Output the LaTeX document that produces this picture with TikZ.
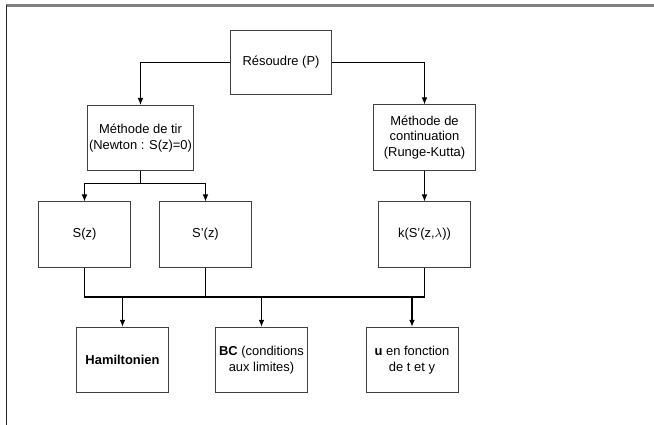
\documentclass[tikz,border=0pt]{standalone}
\usepackage{fontspec}
\setmainfont{Liberation Sans}
\usetikzlibrary{arrows.meta}
\begin{document}
\begin{tikzpicture}[x=0.025cm, y=-0.025cm,
    every node/.style={rectangle, draw=black!75, line width=0.6pt, align=center,
      minimum width=2.3cm, minimum height=1.63cm, inner sep=1pt,
      font=\fontsize{9.2}{11}\selectfont},
    wide/.style={minimum width=2.53cm},
    thin arrow/.style={-{Latex[length=5pt,width=4pt]}, line width=0.6pt},
    thick arrow/.style={-{Latex[length=5pt,width=4pt]}, line width=1.2pt},
    bus/.style={line width=1.2pt}]
  \useasboundingbox (0,0) rectangle (654,425);
  % cadre
  \draw[black!50, line width=1.5pt] (6,5.5) -- (654,5.5);
  \draw[black!85, line width=1.2pt] (6.5,5) -- (6.5,425);

  \node (resoudre) at (281,62) [wide, minimum height=1.6cm] {Résoudre (P)};
  \node (tir) at (140.5,138) [wide] {Méthode de tir\\(Newton : S(z)=0)};
  \node (cont) at (424.5,137.5) [wide] {Méthode de\\continuation\\(Runge-Kutta)};
  \node (s) at (84.5,234.5) {S(z)};
  \node (sp) at (205.5,234.5) {S'(z)};
  \node (k) at (424.5,234.5) {k(S'(z,$\lambda$))};
  \node (ham) at (122.5,360) {\textbf{Hamiltonien}};
  \node (bc) at (261.5,360) {\textbf{BC} (conditions\\aux limites)};
  \node (u) at (412,360) {\textbf{u} en fonction\\de t et y};

  \coordinate (b1) at (140.5,183);
  \coordinate (b2) at (84.5,297);

  \draw[thin arrow] (resoudre.west) -| (tir.north);
  \draw[thin arrow] (resoudre.east) -| (cont.north);
  \draw[line width=0.6pt] (tir.south) -- (b1);
  \draw[thin arrow] (b1) -| (s.north);
  \draw[thin arrow] (b1) -| (sp.north);
  \draw[thin arrow] (cont.south) -- (k.north);

  \draw[bus] (s.south) |- (k.south |- b2) -- (k.south);
  \draw[bus] (sp.south) -- (sp.south |- b2);
  \draw[thick arrow] (ham.north |- b2) -- (ham.north);
  \draw[thick arrow] (bc.north |- b2) -- (bc.north);
  \draw[thick arrow] (u.north |- b2) -- (u.north);
\end{tikzpicture}
\end{document}
